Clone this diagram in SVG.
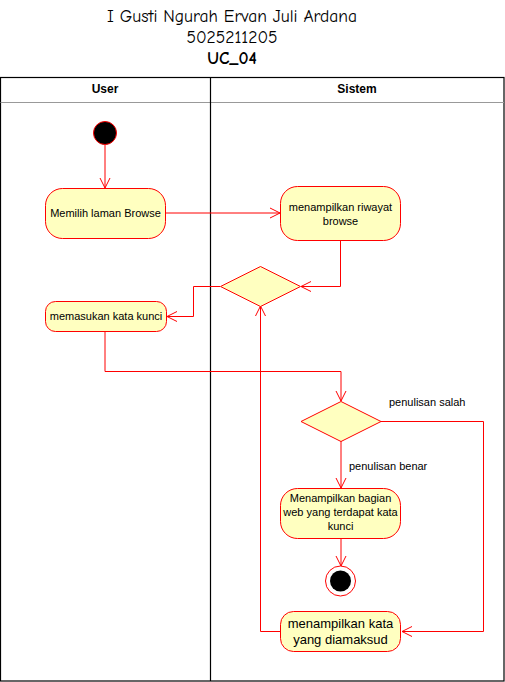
<svg xmlns="http://www.w3.org/2000/svg" width="505" height="682" viewBox="0 0 505 682">
<defs>
<style>
.act{fill:#ffffc0;stroke:#ff0000;stroke-width:1}
.t{font-family:"Liberation Sans",Arial,sans-serif;font-size:11px;fill:#000;text-anchor:middle}
.t13{font-size:13px}
.lbl{font-family:"Liberation Sans",Arial,sans-serif;font-size:11px;fill:#000}
.hdr{font-family:"Liberation Sans",Arial,sans-serif;font-size:12px;font-weight:bold;fill:#000;text-anchor:middle}
.title{font-family:"Comic Sans MS","Comic Neue","Liberation Sans",sans-serif;font-size:17.5px;fill:#000;text-anchor:middle}
.edge{fill:none;stroke:#ff0000;stroke-width:1}
</style>
<marker id="arr" viewBox="0 0 12 12" refX="11" refY="6" markerWidth="12" markerHeight="12" markerUnits="userSpaceOnUse" orient="auto">
<path d="M1,1 L11,6 L1,11" fill="none" stroke="#ff0000" stroke-width="1"/>
</marker>
</defs>
<rect width="505" height="682" fill="#ffffff"/>
<g id="title">
<text class="title" x="232" y="22">I Gusti Ngurah Ervan Juli Ardana</text>
<text class="title" x="232" y="43">5025211205</text>
<text class="title" x="232" y="64" font-weight="bold">UC_04</text>
</g>
<g id="pool">
<rect x="0.5" y="77.5" width="503.5" height="603.5" fill="none" stroke="#000" stroke-width="1.2"/>
<line x1="0.5" y1="102.5" x2="504" y2="102.5" stroke="#999" stroke-width="1"/>
<line x1="210.5" y1="77.5" x2="210.5" y2="681" stroke="#000" stroke-width="1.2"/>
<text class="hdr" x="105" y="93">User</text>
<text class="hdr" x="357" y="93">Sistem</text>
</g>
<g id="connectors">
<path class="edge" d="M105,145 V188" marker-end="url(#arr)"/>
<path class="edge" d="M165,213 H280" marker-end="url(#arr)"/>
<path class="edge" d="M340.5,240 V286.5 H301" marker-end="url(#arr)"/>
<path class="edge" d="M220,286.5 H193.5 V316.5 H167" marker-end="url(#arr)"/>
<path class="edge" d="M105,332 V371.5 H341 V401" marker-end="url(#arr)"/>
<path class="edge" d="M341,441 V488" marker-end="url(#arr)"/>
<path class="edge" d="M381,421.5 H483.5 V631.5 H402" marker-end="url(#arr)"/>
<path class="edge" d="M341,538 V566" marker-end="url(#arr)"/>
<path class="edge" d="M281,631.5 H260.5 V306" marker-end="url(#arr)"/>
<text class="lbl" x="389" y="406">penulisan salah</text>
<text class="lbl" x="349" y="470">penulisan benar</text>
</g>
<g id="start">
<circle cx="105" cy="133" r="11.5" fill="#000" stroke="#ff0000" stroke-width="1"/>
</g>
<g id="memilih">
<rect class="act" x="45.5" y="188.5" width="120" height="50" rx="17" ry="17"/>
<text class="t" x="105.5" y="217">Memilih laman Browse</text>
</g>
<g id="riwayat">
<rect class="act" x="280.5" y="186.5" width="120" height="54" rx="17" ry="17"/>
<text class="t" x="340.5" y="211">menampilkan riwayat</text>
<text class="t" x="340.5" y="225">browse</text>
</g>
<g id="decision1">
<polygon class="act" points="260.5,266.5 300.5,286.5 260.5,306.5 220.5,286.5"/>
</g>
<g id="memasukan">
<rect class="act" x="45.5" y="301.5" width="121" height="30" rx="10" ry="10"/>
<text class="t" x="106" y="320">memasukan kata kunci</text>
</g>
<g id="decision2">
<polygon class="act" points="341,401.5 381,421.5 341,441.5 301,421.5"/>
</g>
<g id="menampilkanBagian">
<rect class="act" x="280.5" y="488.5" width="120" height="50" rx="17" ry="17"/>
<text class="t" x="340.5" y="502">Menampilkan bagian</text>
<text class="t" x="340.5" y="516">web yang terdapat kata</text>
<text class="t" x="340.5" y="530">kunci</text>
</g>
<g id="end">
<circle cx="340.5" cy="581" r="15" fill="#fff" stroke="#ff0000" stroke-width="1"/>
<circle cx="340.5" cy="581" r="10.5" fill="#000"/>
</g>
<g id="menampilkanKata">
<rect class="act" x="280.5" y="611.5" width="120" height="40" rx="13" ry="13"/>
<text class="t t13" x="340.5" y="628">menampilkan kata</text>
<text class="t t13" x="340.5" y="644">yang diamaksud</text>
</g>
</svg>
